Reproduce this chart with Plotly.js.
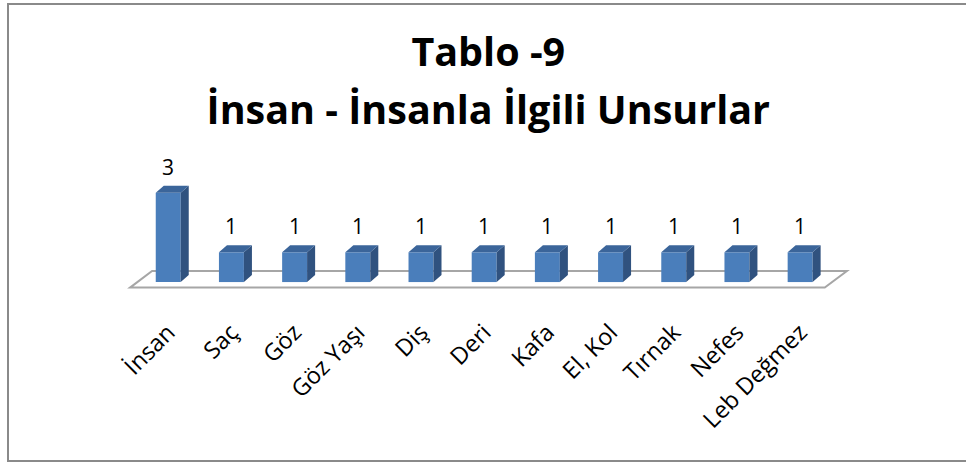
<!DOCTYPE html>
<html>
<head>
<meta charset="utf-8">
<script src="https://cdn.plot.ly/plotly-3.0.1.min.js"></script>
<style>
  html, body { margin: 0; padding: 0; background: #fff; overflow: hidden; }
  #chart { width: 966px; height: 463px; position: relative; }
  #frame { position: absolute; left: 7px; top: 3px; width: 1000px; height: 459px;
           box-sizing: border-box; border: 2px solid #8a8a8a; border-right: none;
           pointer-events: none; }
</style>
</head>
<body>
<div id="chart"></div>
<div id="frame"></div>
<script>
// ---- data ----
const categories = ["İnsan", "Saç", "Göz", "Göz Yaşı", "Diş", "Deri", "Kafa", "El, Kol", "Tırnak", "Nefes", "Leb Değmez"];
const values = [3, 1, 1, 1, 1, 1, 1, 1, 1, 1, 1];
const titleLines = ["Tablo -9", "İnsan - İnsanla İlgili Unsurlar"];

// ---- style constants ----
const FONT = "Open Sans, Noto Sans, sans-serif";
const FRONT = "#4a7ebb", SIDE = "#30527f", TOP = "#3b659a";
const barW = 0.395, hw = barW / 2;
const dX = 0.127, dY = 0.236;   // depth offset of each column (axis units)

const idx = categories.map((_, i) => i);

// side and top faces built from the same values
const sideX = [], sideY = [], topX = [], topY = [];
idx.forEach(i => {
  const v = values[i];
  sideX.push(i + hw, i + hw + dX, i + hw + dX, i + hw, i + hw, null);
  sideY.push(0, dY, v + dY, v, 0, null);
  topX.push(i - hw, i - hw + dX, i + hw + dX, i + hw, i - hw, null);
  topY.push(v, v + dY, v + dY, v, v, null);
});

const traces = [
  { type: "bar", x: idx, y: values, width: barW, marker: { color: FRONT, line: { width: 0 } },
    hoverinfo: "x+y", showlegend: false },
  { type: "scatter", mode: "lines", x: sideX, y: sideY, fill: "toself", fillcolor: SIDE,
    line: { width: 0, color: SIDE }, hoverinfo: "skip", showlegend: false },
  { type: "scatter", mode: "lines", x: topX, y: topY, fill: "toself", fillcolor: TOP,
    line: { width: 0, color: TOP }, hoverinfo: "skip", showlegend: false }
];

const n = categories.length;
const floorPath = `M ${-0.604} ${-0.185} L ${n - 1 + 0.39} ${-0.185} L ${n - 1 + 0.74} ${0.37} L ${-0.256} ${0.37} Z`;

const annotations = idx.map(i => ({
  x: i, y: values[i], xref: "x", yref: "y", text: String(values[i]),
  showarrow: false, yanchor: "middle", yshift: 26,
  font: { family: FONT, size: 21, color: "#000" }
}));

const layout = {
  width: 966, height: 463,
  margin: { l: 124, r: 109, t: 160, b: 172, pad: 0 },
  paper_bgcolor: "rgba(0,0,0,0)", plot_bgcolor: "rgba(0,0,0,0)",
  title: {
    text: titleLines.map(t => `<span style="font-size:39.5px">${t}</span>`).join("<br>"),
    font: { family: FONT, size: 44.6, color: "#000", weight: "bold" },
    x: 0.497, xref: "paper", xanchor: "center",
    y: 1 - 66 / 463, yref: "container", yanchor: "top"
  },
  xaxis: {
    range: [-0.7, 10.9], tickmode: "array", tickvals: idx, ticktext: categories,
    tickangle: -45, ticklabelstandoff: 22, showgrid: false, zeroline: false, showline: false,
    ticks: "", tickfont: { family: FONT, size: 23.5, color: "#000" }, fixedrange: true
  },
  yaxis: {
    range: [-0.3, 4.1], visible: false, showgrid: false, zeroline: false, fixedrange: true
  },
  shapes: [{ type: "path", path: floorPath, xref: "x", yref: "y", layer: "below",
             fillcolor: "#ffffff", line: { color: "#a6a6a6", width: 2 } }],
  annotations: annotations,
  showlegend: false
};

Plotly.newPlot("chart", traces, layout, { displayModeBar: false, staticPlot: true });
</script>
</body>
</html>
